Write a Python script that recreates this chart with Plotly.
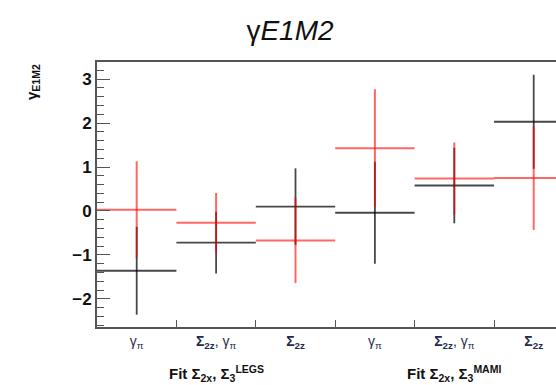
import plotly.graph_objects as go

# ---- data ----
categories = [1, 2, 3, 4, 5, 6]
cat_labels = [
    "γ<sub>π</sub>",
    "<b>Σ<sub>2z</sub></b>, γ<sub>π</sub>",
    "<b>Σ<sub>2z</sub></b>",
    "γ<sub>π</sub>",
    "<b>Σ<sub>2z</sub></b>, γ<sub>π</sub>",
    "<b>Σ<sub>2z</sub></b>",
]
black_vals = [-1.36, -0.72, 0.10, -0.04, 0.58, 2.03]
black_err = [1.00, 0.70, 0.87, 1.16, 0.86, 1.07]
red_vals = [0.03, -0.27, -0.67, 1.43, 0.74, 0.75]
red_err = [1.10, 0.68, 0.97, 1.34, 0.82, 1.18]
bin_halfwidth = [0.5] * 6
bin_edges = [1.5, 2.5, 3.5, 4.5, 5.5]
group_labels = ["Fit Σ<sub>2x</sub>, Σ<sub>3</sub><sup>LEGS</sup>",
                "Fit Σ<sub>2x</sub>, Σ<sub>3</sub><sup>MAMI</sup>"]
group_pos = [2, 5]

W, H = 556, 385
L, R, T, B = 97, 0, 62, 58

fig = go.Figure()

def add_series(vals, errs, color, width):
    fig.add_trace(go.Scatter(
        x=categories, y=vals, mode="markers",
        marker=dict(size=0.1, color="rgba(0,0,0,0)"),
        error_x=dict(type="data", array=bin_halfwidth, color=color,
                     thickness=width, width=0),
        error_y=dict(type="data", array=errs, color=color,
                     thickness=width, width=0),
        showlegend=False, hoverinfo="skip",
    ))

add_series(black_vals, black_err, "rgba(0,0,0,0.72)", 1.8)
add_series(red_vals, red_err, "rgba(255,0,0,0.6)", 2.0)

axis_col = "#555555"
fig.update_xaxes(
    range=[0.5, 0.5 + (W - L) / 79.4],
    tickmode="array", tickvals=categories, ticktext=cat_labels,
    ticks="inside", ticklen=0,
    tickfont=dict(family="Liberation Sans, Arial", size=14, color="#1f2a4d"),
    showline=True, linecolor=axis_col, linewidth=2, mirror=True,
    showgrid=False, zeroline=False,
    minor=dict(tickmode="array", tickvals=bin_edges, ticks="inside",
               ticklen=7, tickcolor=axis_col, tickwidth=1.2, showgrid=False),
)
fig.update_yaxes(
    range=[-2.64, 3.39],
    tickmode="linear", tick0=0, dtick=1,
    ticks="inside", ticklen=13, tickwidth=1.4, tickcolor=axis_col,
    tickfont=dict(family="Liberation Sans, Arial", size=17, color="#111111"),
    showline=True, linecolor=axis_col, linewidth=2, mirror=False,
    showgrid=False, zeroline=False,
    minor=dict(dtick=0.2, ticks="inside", ticklen=7, tickwidth=1.2,
               tickcolor=axis_col, showgrid=False),
)
# bold tick labels
fig.update_yaxes(tickprefix="<b>", ticksuffix="</b>")

annotations = []
for txt, xp in zip(group_labels, group_pos):
    annotations.append(dict(
        x=xp, xref="x", y=-(373 - (H - B)) / (H - T - B), yref="paper",
        text="<b>" + txt + "</b>", showarrow=False,
        xanchor="center", yanchor="middle",
        font=dict(family="Liberation Sans, Arial", size=15, color="#111111"),
    ))
annotations.append(dict(
    x=(32 - L) / (W - L - R), xref="paper", y=1.0, yref="paper",
    text="<b>γ<sub>E1M2</sub></b>", textangle=-90, showarrow=False,
    xanchor="center", yanchor="top",
    font=dict(family="Liberation Sans, Arial", size=15, color="#111111"),
))

fig.update_layout(
    width=W, height=H,
    margin=dict(l=L, r=R, t=T, b=B, pad=0),
    paper_bgcolor="white", plot_bgcolor="white",
    title=dict(text="γ<i>E1M2</i>", xref="container", x=290 / W,
               xanchor="center", yref="container", y=1 - 30 / H,
               yanchor="middle",
               font=dict(family="Liberation Sans, Arial", size=28,
                         color="#111111")),
    annotations=annotations,
)

fig.write_html("out.html")
